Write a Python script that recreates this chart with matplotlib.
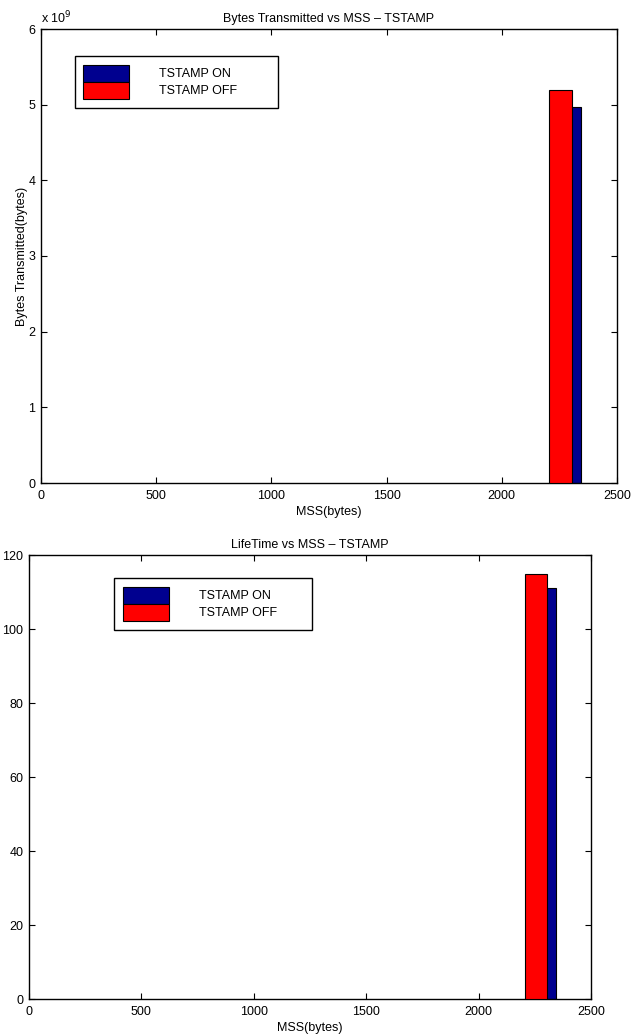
import matplotlib
matplotlib.use('Agg')
import matplotlib.pyplot as plt
from matplotlib.ticker import FuncFormatter

plt.rcParams['font.family'] = ['Liberation Sans', 'DejaVu Sans']
plt.rcParams['font.size'] = 9

labels = ['TSTAMP ON', 'TSTAMP OFF']
colors = ['#00008f', '#ff0000']
bar_x = [2294, 2255]          # blue bar sits behind the red one
bar_w = 100
bytes_tx = [4.97e9, 5.20e9]
lifetime = [111, 115]
x_ticks = [0, 500, 1000, 1500, 2000, 2500]
bytes_ticks = [0, 1e9, 2e9, 3e9, 4e9, 5e9, 6e9]
life_ticks = [0, 20, 40, 60, 80, 100, 120]

fig = plt.figure(figsize=(6.37, 10.35), dpi=100)


def panel(rect, values, yticks, title, leg_box):
    ax = fig.add_axes(rect)
    for i in range(2):
        ax.bar(bar_x[i], values[i], bar_w, color=colors[i], edgecolor='black',
               linewidth=0.8, label=labels[i], zorder=2 + i)
    ax.set_xlim(0, 2500)
    ax.set_ylim(yticks[0], yticks[-1])
    ax.set_xticks(x_ticks)
    ax.set_yticks(yticks)
    ax.tick_params(direction='in', top=True, right=True, length=4, width=0.8,
                   labelsize=9)
    ax.tick_params(axis='x', pad=5)
    ax.tick_params(axis='y', pad=4)
    for s in ax.spines.values():
        s.set_linewidth(1.0)
    ax.set_title(title, fontsize=9, pad=5)
    ax.set_xlabel('MSS(bytes)', fontsize=9, labelpad=3)
    leg = ax.legend(loc='upper left', bbox_to_anchor=leg_box, mode='expand',
                    fontsize=9, handlelength=3.68, handleheight=1.715,
                    labelspacing=0, handletextpad=2.4, borderpad=0.7,
                    borderaxespad=0, fancybox=False, edgecolor='black',
                    framealpha=1)
    leg.get_frame().set_linewidth(1.0)
    return ax


ax1 = panel([41 / 637, 1 - 483 / 1035, 576 / 637, 454 / 1035], bytes_tx,
            bytes_ticks, 'Bytes Transmitted vs MSS \u2013 TSTAMP',
            (0.0585, 0.8267, 0.353, 0.1138))
ax1.yaxis.set_major_formatter(FuncFormatter(lambda v, p: '%g' % (v / 1e9)))
ax1.set_ylabel('Bytes Transmitted(bytes)', fontsize=9, labelpad=0)
ax1.text(0, 1.005, 'x 10$^9$', transform=ax1.transAxes, fontsize=9,
         ha='left', va='bottom')

ax2 = panel([29 / 637, 1 - 999 / 1035, 562 / 637, 444 / 1035], lifetime,
            life_ticks, 'LifeTime vs MSS \u2013 TSTAMP',
            (0.1512, 0.833, 0.352, 0.115))

fig.savefig('out.png', dpi=100)
